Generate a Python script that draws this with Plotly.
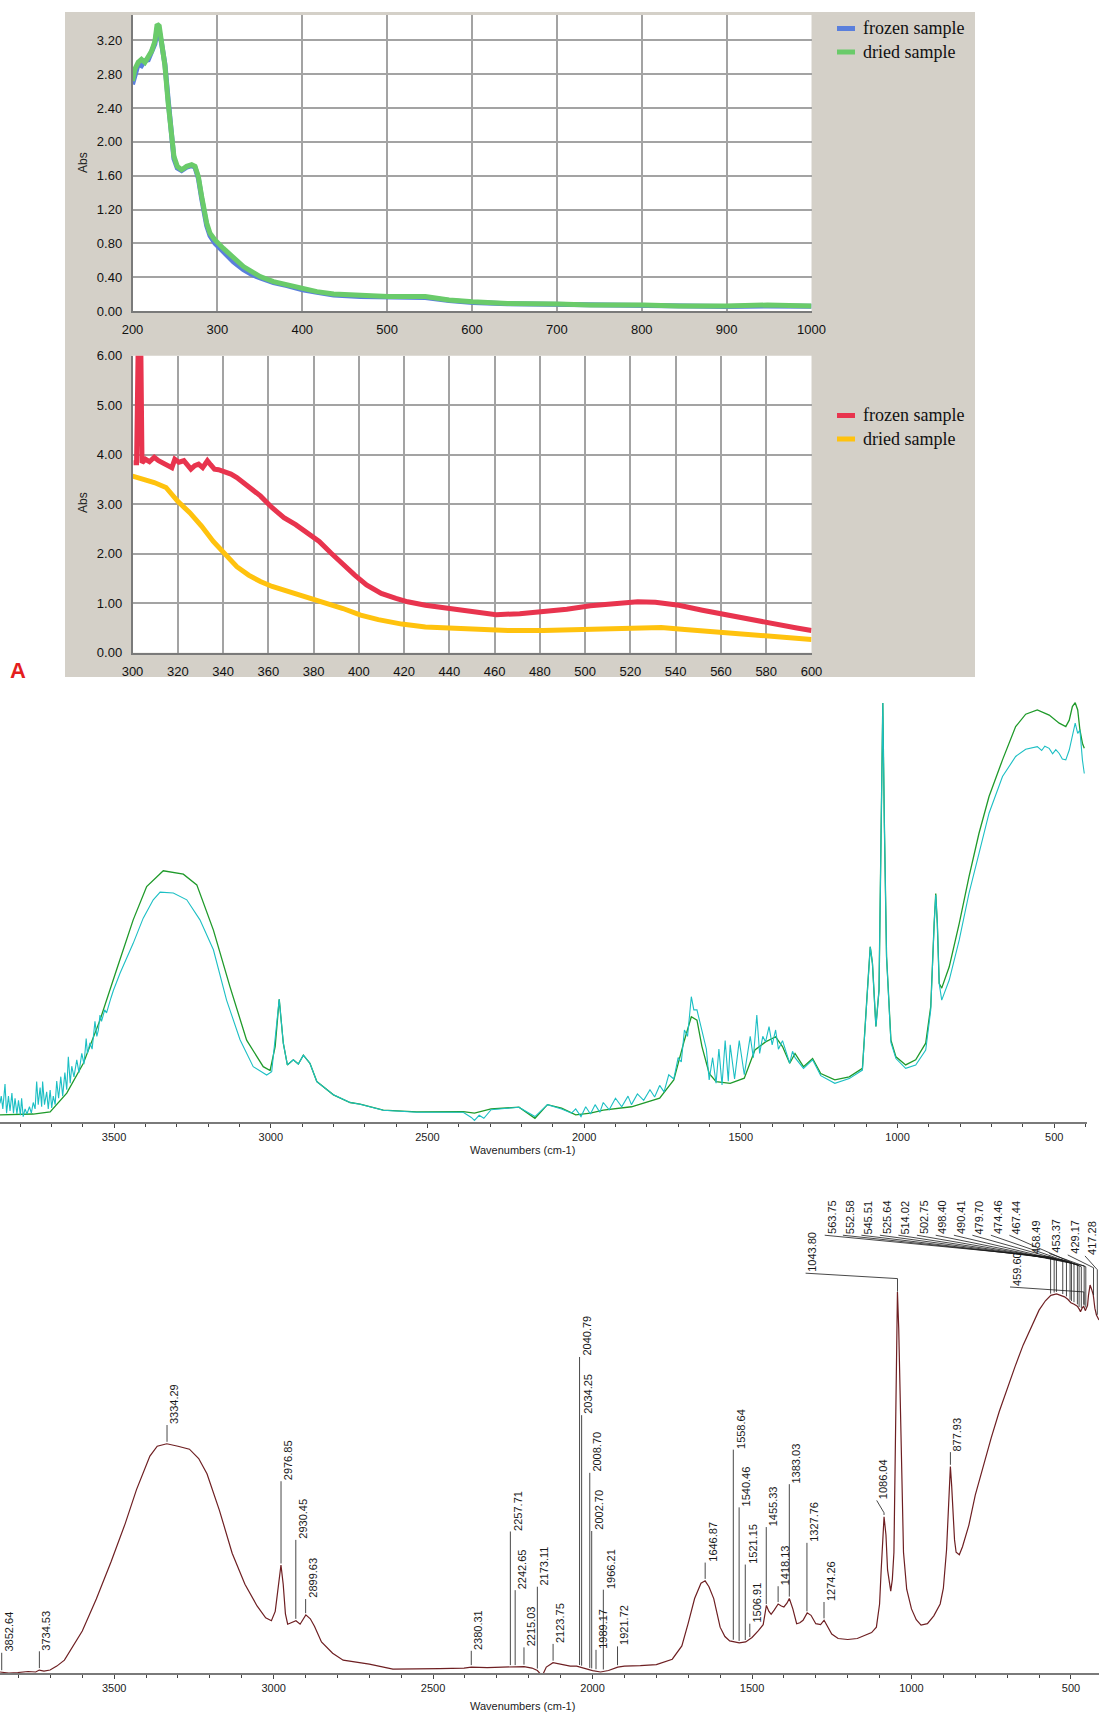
import numpy as np
import plotly.graph_objects as go

W, H = 1099, 1716

# ---------------- UV-Vis, panel 1 (200-1000 nm) ----------------
uv1_nm = [200, 202.8, 206.7, 210.6, 214.6, 218.5, 222.4, 226.4, 229, 231.5, 234.3, 238.2, 242, 245.3,
          248.8, 252.8, 257.9, 263.8, 269.7, 273.6, 277.6, 281.5, 287.4, 291.3, 297.2, 307.1, 318.9,
          330.7, 340.6, 350.4, 366.1, 381.9, 400.4, 417.3, 437, 468.5, 501, 545, 573, 601, 642, 701,
          740, 802, 844, 899, 948, 1000]
uv1_frozen = [2.68, 2.80, 2.92, 2.90, 2.96, 2.97, 3.05, 3.16, 3.33, 3.31, 3.16, 2.92, 2.50, 2.10,
              1.80, 1.69, 1.66, 1.70, 1.72, 1.70, 1.57, 1.33, 1.01, 0.89, 0.80, 0.70, 0.58,
              0.49, 0.43, 0.39, 0.335, 0.30, 0.25, 0.22, 0.19, 0.17, 0.165, 0.16, 0.125, 0.10, 0.085, 0.075,
              0.065, 0.065, 0.052, 0.052, 0.06, 0.055]
uv1_dried = [2.72, 2.86, 2.94, 2.975, 2.94, 3.0, 3.07, 3.19, 3.39, 3.37, 3.19, 2.90, 2.46, 2.07,
             1.83, 1.71, 1.67, 1.71, 1.73, 1.71, 1.59, 1.355, 1.04, 0.92, 0.84, 0.74, 0.624,
             0.525, 0.466, 0.407, 0.348, 0.308, 0.257, 0.229, 0.20, 0.178, 0.17, 0.17, 0.13, 0.11, 0.09, 0.083,
             0.071, 0.071, 0.059, 0.059, 0.071, 0.059]

# ---------------- UV-Vis, panel 2 (300-600 nm) ----------------
uv2_nm_frozen = [300.5, 301.8, 302.6, 303.6, 304.2, 305.7, 307.5, 309.6, 311.5, 313.5, 315.5, 317.4, 318.7,
                 320.5, 322.7, 324.0, 325.8, 327.5, 329.2, 331.0, 333.1, 334.5, 336.2, 338.0, 339.6, 341.5,
                 343.5, 346.1, 351.3, 356.5, 361.7, 366.9, 372.1, 377.3,
                 382.5, 387.8, 393, 398.2, 403.4, 409.9, 416.4, 421.6, 429.4, 439.8, 450.3, 460.7,
                 471.1, 481.5, 491.9, 502.3, 512.7, 523.2, 531, 541.4, 551.8, 562.2, 572.6, 583, 593.5, 600]
uv2_frozen = [3.84, 3.84, 6.5, 6.5, 3.84, 3.91, 3.86, 3.95, 3.88, 3.84, 3.80, 3.74, 3.91,
              3.85, 3.88, 3.80, 3.71, 3.78, 3.81, 3.74, 3.88, 3.80, 3.71, 3.70, 3.67, 3.66,
              3.61, 3.54, 3.34, 3.17, 2.93, 2.73, 2.59, 2.42,
              2.25, 2.01, 1.78, 1.57, 1.37, 1.20, 1.10, 1.03, 0.96, 0.895, 0.83, 0.77,
              0.79, 0.83, 0.88, 0.95, 1.00, 1.03, 1.02, 0.96, 0.86, 0.77, 0.68, 0.57, 0.50, 0.45]
uv2_nm_dried = [300, 304.4, 309.6, 314.8, 320, 325.3, 330.5, 335.7, 340.9, 346.1, 351.3, 356.5, 361.7,
                369.5, 377.3, 385.2, 393, 400.8, 408.6, 419, 429.4, 439.8, 450.3, 465.9, 481.5, 497.1,
                507.5, 518, 533.6, 544, 554.4, 567.4, 580.5, 590.9, 600]
uv2_dried = [3.57, 3.51, 3.44, 3.34, 3.06, 2.83, 2.56, 2.25, 1.98, 1.74, 1.57, 1.44, 1.34,
             1.23, 1.13, 1.02, 0.895, 0.76, 0.67, 0.58, 0.52, 0.50, 0.47, 0.45, 0.45, 0.47,
             0.49, 0.51, 0.51, 0.47, 0.43, 0.39, 0.34, 0.30, 0.27]

# ---------------- FTIR overlay (panel 3) ----------------
ir3_wn_green = [3864, 3758, 3704, 3651, 3598, 3545, 3492, 3439, 3396, 3343, 3279, 3236, 3183, 3130, 3077,
                3024, 3002, 2986, 2973, 2960, 2947, 2928, 2912, 2896, 2875, 2853, 2800, 2747, 2715, 2641,
                2534, 2475, 2386, 2350, 2297, 2208, 2157, 2117, 2072, 2027, 1980, 1939, 1849, 1759, 1714,
                1680, 1658, 1640, 1624, 1601, 1579, 1534, 1489, 1455, 1421, 1389, 1367, 1344, 1327, 1300,
                1271, 1245, 1200, 1154, 1112, 1096, 1087, 1080, 1069, 1059, 1053, 1047, 1042, 1035, 1021,
                1005, 974, 942, 910, 894, 883, 878, 873, 867, 859, 835, 803, 772, 740, 708, 665, 623, 591,
                554, 516, 484, 463, 452, 442, 433, 425, 418, 410, 404]
ir3_green = [0.016, 0.018, 0.023, 0.067, 0.137, 0.238, 0.356, 0.473, 0.551, 0.588, 0.580, 0.555, 0.449, 0.316, 0.191,
             0.129, 0.120, 0.176, 0.287, 0.184, 0.133, 0.145, 0.135, 0.156, 0.137, 0.094, 0.063, 0.045, 0.041, 0.027,
             0.023, 0.0235, 0.0235, 0.020, 0.030, 0.034, 0.008, 0.040, 0.032, 0.016, 0.020, 0.027, 0.035, 0.055, 0.098,
             0.191, 0.246, 0.238, 0.176, 0.113, 0.094, 0.090, 0.102, 0.168, 0.187, 0.199, 0.176, 0.137, 0.160, 0.129,
             0.148, 0.113, 0.098, 0.105, 0.125, 0.309, 0.410, 0.371, 0.223, 0.309, 0.621, 0.981, 0.699, 0.387, 0.191,
             0.152, 0.133, 0.145, 0.184, 0.270, 0.465, 0.535, 0.465, 0.324, 0.313, 0.363, 0.465, 0.574, 0.676, 0.762,
             0.848, 0.926, 0.955, 0.965, 0.953, 0.934, 0.926, 0.941, 0.973, 0.982, 0.965, 0.918, 0.887, 0.875]

ir3_wn_cyan = [3864, 3860, 3855, 3848, 3843, 3837, 3832, 3826, 3821, 3816, 3810, 3805, 3799, 3795, 3790, 3784,
               3778, 3770, 3764, 3758, 3752, 3747, 3742, 3736, 3731, 3728, 3722, 3715, 3710, 3704, 3699, 3694,
               3688, 3683, 3677, 3670, 3664, 3657, 3651, 3646, 3640, 3635, 3628, 3619, 3612, 3603, 3596, 3589,
               3585, 3577, 3570, 3561, 3555, 3550, 3545, 3540, 3530, 3524, 3510, 3502,
               3481, 3439, 3407, 3375, 3353, 3311, 3268, 3226, 3183, 3141, 3098, 3056, 3013, 2997, 2973, 2960,
               2947, 2928, 2912, 2896, 2875, 2853, 2800, 2747, 2715, 2641, 2534, 2475, 2386, 2360, 2350, 2335,
               2320, 2297, 2208, 2157, 2117, 2072, 2040, 2027, 2010, 1995, 1980, 1965, 1950, 1939, 1920, 1900,
               1880, 1860, 1849, 1830, 1810, 1790, 1775, 1759, 1745, 1730, 1714, 1700, 1690, 1680, 1670, 1658,
               1650, 1640, 1632, 1624, 1610, 1601, 1590, 1579, 1570, 1560, 1550, 1540, 1534, 1520, 1505, 1489,
               1470, 1460, 1449, 1440, 1430, 1421, 1410, 1400, 1389, 1380, 1367, 1344, 1335, 1327, 1300, 1271,
               1245, 1200, 1154, 1112, 1096, 1087, 1080, 1069, 1059, 1053, 1047, 1042, 1035, 1021, 1005, 974,
               942, 910, 894, 883, 878, 873, 867, 859, 835, 803, 772, 740, 708, 665, 623, 591, 554, 540, 530,
               516, 505, 495, 484, 474, 463, 452, 442, 433, 425, 418, 410, 404]
ir3_cyan = [0.043, 0.060, 0.030, 0.088, 0.020, 0.060, 0.025, 0.067, 0.020, 0.055, 0.018, 0.050, 0.015, 0.055, 0.012, 0.030,
            0.018, 0.035, 0.020, 0.045, 0.030, 0.094, 0.040, 0.080, 0.035, 0.094, 0.040, 0.070, 0.030, 0.074, 0.032, 0.060,
            0.040, 0.095, 0.055, 0.1055, 0.060, 0.115, 0.075, 0.152, 0.090, 0.130, 0.105, 0.145, 0.115, 0.160, 0.135, 0.195,
            0.160, 0.185, 0.170, 0.235, 0.200, 0.215, 0.250, 0.235, 0.262, 0.255, 0.290, 0.308,
            0.348, 0.418, 0.477, 0.520, 0.538, 0.536, 0.520, 0.473, 0.403, 0.285, 0.192, 0.129, 0.1094, 0.117, 0.287, 0.184,
            0.133, 0.145, 0.135, 0.156, 0.137, 0.094, 0.063, 0.045, 0.041, 0.027, 0.022, 0.0225, 0.022, 0.010, 0.003, 0.015,
            0.008, 0.028, 0.034, 0.012, 0.040, 0.030, 0.020, 0.030, 0.012, 0.035, 0.018, 0.040, 0.022, 0.045, 0.028, 0.055,
            0.035, 0.060, 0.040, 0.065, 0.050, 0.075, 0.058, 0.085, 0.070, 0.110, 0.100, 0.150, 0.140, 0.215, 0.200, 0.293,
            0.262, 0.262, 0.238, 0.215, 0.170, 0.098, 0.150, 0.090, 0.170, 0.086, 0.190, 0.095, 0.180, 0.100, 0.190, 0.110,
            0.200, 0.150, 0.250, 0.160, 0.200, 0.187, 0.223, 0.180, 0.215, 0.170, 0.190, 0.137, 0.165, 0.150, 0.125, 0.145,
            0.108, 0.090, 0.101, 0.121, 0.309, 0.410, 0.371, 0.223, 0.309, 0.621, 0.981, 0.699, 0.387, 0.185, 0.148, 0.125,
            0.133, 0.168, 0.262, 0.465, 0.531, 0.465, 0.324, 0.285, 0.332, 0.426, 0.535, 0.629, 0.723, 0.809, 0.856, 0.873, 0.879, 0.870, 0.880,
            0.875, 0.862, 0.872, 0.863, 0.850, 0.848, 0.871, 0.902, 0.934, 0.910, 0.918, 0.848, 0.816]

# ---------------- FTIR with peak picking (panel 4) ----------------
ir4_wn = [3858, 3830, 3802, 3770, 3746, 3735, 3720, 3701, 3680, 3656, 3600, 3556, 3510, 3466, 3430, 3388, 3365,
          3335, 3300, 3264, 3235, 3209, 3170, 3130, 3090, 3052, 3025, 3007, 2995, 2985, 2977, 2970, 2963, 2956,
          2940, 2930, 2917, 2905, 2899, 2885, 2872, 2850, 2815, 2782, 2738, 2700, 2626, 2550, 2480, 2403, 2380,
          2330, 2290, 2257, 2230, 2215, 2190, 2173, 2158, 2145, 2124, 2100, 2070, 2050, 2040, 2020, 2000, 1975,
          1960, 1950, 1921, 1900, 1850, 1800, 1750, 1720, 1700, 1680, 1660, 1647, 1635, 1620, 1600, 1585, 1570,
          1540, 1520, 1500, 1480, 1465, 1458, 1455, 1447, 1440, 1430, 1418, 1408, 1400, 1390, 1383, 1372, 1360,
          1350, 1340, 1327, 1315, 1300, 1285, 1274, 1262, 1250, 1230, 1200, 1170, 1150, 1125, 1110, 1100, 1095,
          1086, 1080, 1075, 1065, 1060, 1055, 1050, 1044, 1040, 1035, 1030, 1025, 1015, 1000, 985, 970, 950, 930,
          910, 900, 890, 885, 878, 874, 870, 865, 860, 850, 840, 820, 800, 775, 750, 725, 700, 675, 650, 625, 600,
          580, 563, 545, 530, 520, 510, 500, 490, 480, 474, 470, 465, 460, 455, 448, 445, 440, 435, 430, 425, 420, 412]
ir4_abs = [0.002, 0.000, 0.001, 0.003, 0.002, 0.006, 0.004, 0.006, 0.014, 0.026, 0.085, 0.150, 0.225, 0.302, 0.372, 0.440, 0.460,
           0.465, 0.460, 0.454, 0.435, 0.404, 0.330, 0.243, 0.180, 0.136, 0.112, 0.106, 0.125, 0.175, 0.219, 0.180, 0.120, 0.099,
           0.103, 0.106, 0.099, 0.112, 0.118, 0.110, 0.095, 0.063, 0.040, 0.026, 0.022, 0.018, 0.008, 0.008, 0.009, 0.010, 0.012,
           0.011, 0.012, 0.012, 0.012, 0.013, 0.010, 0.005, -0.006, 0.012, 0.021, 0.018, 0.014, 0.014, 0.012, 0.008, 0.005, 0.002,
           0.004, 0.005, 0.012, 0.014, 0.015, 0.017, 0.028, 0.055, 0.101, 0.151, 0.182, 0.187, 0.175, 0.151, 0.093, 0.074, 0.065,
           0.061, 0.063, 0.072, 0.086, 0.098, 0.125, 0.137, 0.125, 0.119, 0.128, 0.140, 0.136, 0.134, 0.142, 0.151, 0.130, 0.100,
           0.102, 0.107, 0.122, 0.117, 0.100, 0.098, 0.107, 0.092, 0.079, 0.070, 0.068, 0.070, 0.075, 0.082, 0.093, 0.140, 0.209,
           0.317, 0.280, 0.209, 0.166, 0.190, 0.245, 0.450, 0.773, 0.700, 0.534, 0.380, 0.245, 0.170, 0.130, 0.108, 0.097, 0.100, 0.116,
           0.140, 0.172, 0.250, 0.317, 0.419, 0.380, 0.317, 0.270, 0.245, 0.240, 0.256, 0.300, 0.361, 0.420, 0.477, 0.530, 0.578, 0.622, 0.665, 0.700, 0.736,
           0.755, 0.766, 0.769, 0.766, 0.763, 0.758, 0.751, 0.748, 0.744, 0.738, 0.733, 0.740, 0.744, 0.735, 0.745, 0.766, 0.787, 0.778, 0.767, 0.740, 0.726, 0.716]

# picked peaks (cm-1)
ir4_peaks = [3852.64, 3734.53, 3334.29, 2976.85, 2930.45, 2899.63, 2380.31, 2257.71, 2242.65, 2215.03,
             2173.11, 2123.75, 2040.79, 2034.25, 2008.70, 2002.70, 1989.17, 1966.21, 1921.72, 1646.87,
             1558.64, 1540.46, 1521.15, 1506.91, 1455.33, 1418.13, 1383.03, 1327.76, 1274.26, 1086.04,
             1043.80, 877.93, 563.75, 552.58, 545.51, 525.64, 514.02, 502.75, 498.40, 490.41, 479.70,
             474.46, 467.44, 459.60, 458.49, 453.37, 429.17, 417.28]

# layout of the peak labels (label base height, label position, elbow height)
lab_base = [0.041, 0.044, 0.503, 0.389, 0.270, 0.150, 0.045, 0.287, 0.168, 0.052,
            0.175, 0.059, 0.641, 0.523, 0.406, 0.288, 0.047, 0.169, 0.054, 0.224,
            0.453, 0.336, 0.220, 0.100, 0.296, 0.176, 0.383, 0.264, 0.144, 0.350,
            0.811, 0.448, 0.888, 0.888, 0.888, 0.888, 0.888, 0.888, 0.888, 0.888, 0.888,
            0.888, 0.888, 0.783, 0.848, 0.851, 0.848, 0.846]
lab_pos = [None] * 29 + [1109, 1332, None,
           1272, 1215, 1157, 1099, 1041, 983, 924, 867, 809, 751, 693, 691, 631, 568, 510, 456]
lab_elbow = [None] * 29 + [0.325, 0.800, None,
             0.844, 0.842, 0.840, 0.838, 0.836, 0.834, 0.832, 0.830, 0.828, 0.826, 0.824, 0.773,
             0.826, 0.824, 0.822, 0.818]

fig = go.Figure()

# UV traces
fig.add_trace(go.Scatter(x=uv1_nm, y=uv1_frozen, mode="lines", line=dict(color="#5a7fdc", width=5),
                         xaxis="x", yaxis="y", showlegend=False))
fig.add_trace(go.Scatter(x=uv1_nm, y=uv1_dried, mode="lines", line=dict(color="#6acb6a", width=5),
                         xaxis="x", yaxis="y", showlegend=False))
fig.add_trace(go.Scatter(x=uv2_nm_frozen, y=uv2_frozen, mode="lines", line=dict(color="#e8344e", width=5),
                         xaxis="x2", yaxis="y2", showlegend=False))
fig.add_trace(go.Scatter(x=uv2_nm_dried, y=uv2_dried, mode="lines", line=dict(color="#ffc20e", width=5),
                         xaxis="x2", yaxis="y2", showlegend=False))

# IR overlay
fig.add_trace(go.Scatter(x=ir3_wn_green, y=ir3_green, mode="lines", line=dict(color="#1f9a2a", width=1.3),
                         xaxis="x3", yaxis="y3", showlegend=False))
fig.add_trace(go.Scatter(x=ir3_wn_cyan, y=ir3_cyan, mode="lines", line=dict(color="#1cbfc4", width=1.1),
                         xaxis="x3", yaxis="y3", showlegend=False))

# IR with peaks
fig.add_trace(go.Scatter(x=ir4_wn, y=ir4_abs, mode="lines", line=dict(color="#6e1f22", width=1.2),
                         xaxis="x4", yaxis="y4", showlegend=False))

asc_wn = ir4_wn[::-1]
asc_abs = ir4_abs[::-1]
lx, ly = [], []
for i, pk in enumerate(ir4_peaks):
    cv = float(np.interp(pk, asc_wn, asc_abs)) + 0.004
    base = lab_base[i]
    pos = lab_pos[i] if lab_pos[i] is not None else pk
    elb = lab_elbow[i] if lab_elbow[i] is not None else base
    lx += [pk, pk, pos, None]
    ly += [cv, elb, base, None]
fig.add_trace(go.Scatter(x=lx, y=ly, mode="lines", line=dict(color="#1a1a1a", width=0.8),
                         xaxis="x4", yaxis="y4", showlegend=False, hoverinfo="skip"))

annotations = []
for i, pk in enumerate(ir4_peaks):
    pos = lab_pos[i] if lab_pos[i] is not None else pk
    annotations.append(dict(x=pos, y=lab_base[i], xref="x4", yref="y4", text=f"{pk:.2f}",
                            textangle=-90, xanchor="center", yanchor="bottom", xshift=7, yshift=-1,
                            showarrow=False, font=dict(family="Liberation Sans, Arial", size=11, color="#1a1a1a")))


def px(x):
    return x / W


def py(y):
    return 1 - y / H


tickfont_uv = dict(family="Liberation Sans, Arial", size=13, color="#111111")
uv_common = dict(showgrid=True, gridcolor="#a3a3a3", gridwidth=1.5, showline=True, linecolor="#7a7a7a",
                 linewidth=1.5, zeroline=False, ticks="", tickfont=tickfont_uv, ticklabelstandoff=6,
                 automargin=False)
ir_xaxis = dict(showgrid=False, zeroline=False, showline=True, linecolor="#7a7a7a", linewidth=2,
                ticks="outside", ticklen=4, tickcolor="#444", automargin=False,
                tickvals=[3500, 3000, 2500, 2000, 1500, 1000, 500],
                minor=dict(ticks="outside", dtick=100, ticklen=3, tickcolor="#444"),
                tickfont=dict(family="Liberation Sans, Arial", size=11, color="#222"))

fig.update_layout(
    width=W, height=H, margin=dict(l=0, r=0, t=0, b=0, pad=0, autoexpand=False),
    paper_bgcolor="white", plot_bgcolor="white", showlegend=False,
    xaxis=dict(domain=[px(132.5), px(811.5)], range=[200, 1000], anchor="y", dtick=100, tick0=200, **uv_common),
    yaxis=dict(domain=[py(311), py(15)], range=[0, 3.5], anchor="x", tickvals=[0, 0.4, 0.8, 1.2, 1.6, 2.0, 2.4, 2.8, 3.2],
               tickformat=".2f", **uv_common),
    xaxis2=dict(domain=[px(132.5), px(811.5)], range=[300, 600], anchor="y2", dtick=20, tick0=300, **uv_common),
    yaxis2=dict(domain=[py(652.8), py(355.8)], range=[0, 6], anchor="x2", dtick=1, tickformat=".2f", **uv_common),
    xaxis3=dict(domain=[0, px(1086.8)], range=[3864, 396], anchor="y3", **ir_xaxis),
    yaxis3=dict(domain=[py(1121.7), py(695)], range=[0, 1], anchor="x3", visible=False, automargin=False),
    xaxis4=dict(domain=[0, 1], range=[3858, 412], anchor="y4", **ir_xaxis),
    yaxis4=dict(domain=[py(1673), py(1180)], range=[0, 1], anchor="x4", visible=False, automargin=False),
)

shapes = [
    dict(type="rect", xref="paper", yref="paper", x0=px(65), x1=px(975), y0=py(677), y1=py(12),
         fillcolor="#d4d0c8", line=dict(width=0), layer="below"),
    dict(type="rect", xref="paper", yref="paper", x0=px(132.5), x1=px(811.5), y0=py(311), y1=py(15),
         fillcolor="white", line=dict(width=0), layer="below"),
    dict(type="rect", xref="paper", yref="paper", x0=px(132.5), x1=px(811.5), y0=py(652.8), y1=py(355.8),
         fillcolor="white", line=dict(width=0), layer="below"),
]

legend_items = [
    ("frozen sample", "#5a7fdc", 28.5),
    ("dried sample", "#6acb6a", 52.0),
    ("frozen sample", "#e8344e", 415.5),
    ("dried sample", "#ffc20e", 439.0),
]
for name, col, yc in legend_items:
    shapes.append(dict(type="rect", xref="paper", yref="paper", x0=px(837), x1=px(855),
                       y0=py(yc + 2.5), y1=py(yc - 2.5), fillcolor=col, line=dict(width=0)))
    annotations.append(dict(x=px(861), y=py(yc), xref="paper", yref="paper", text=name, showarrow=False,
                            xanchor="left", yanchor="middle",
                            font=dict(family="Liberation Serif, Times New Roman", size=18, color="#111")))

for yc in (163, 503):
    annotations.append(dict(x=px(83), y=py(yc), xref="paper", yref="paper", text="Abs", textangle=-90,
                            showarrow=False, xanchor="center", yanchor="middle",
                            font=dict(family="Liberation Sans, Arial", size=12, color="#222")))

for yc in (1150, 1706):
    annotations.append(dict(x=px(522), y=py(yc), xref="paper", yref="paper", text="Wavenumbers (cm-1)",
                            showarrow=False, xanchor="center", yanchor="middle",
                            font=dict(family="Liberation Sans, Arial", size=11, color="#222")))

annotations.append(dict(x=px(17.5), y=py(671), xref="paper", yref="paper", text="<b>A</b>", showarrow=False,
                        xanchor="center", yanchor="middle",
                        font=dict(family="Liberation Sans, Arial", size=22, color="#e41e1e")))

fig.update_layout(shapes=shapes, annotations=annotations)
fig.write_html("out.html", config={"displayModeBar": False},
               post_script="document.body.style.margin='0';document.body.style.overflow='hidden';")
